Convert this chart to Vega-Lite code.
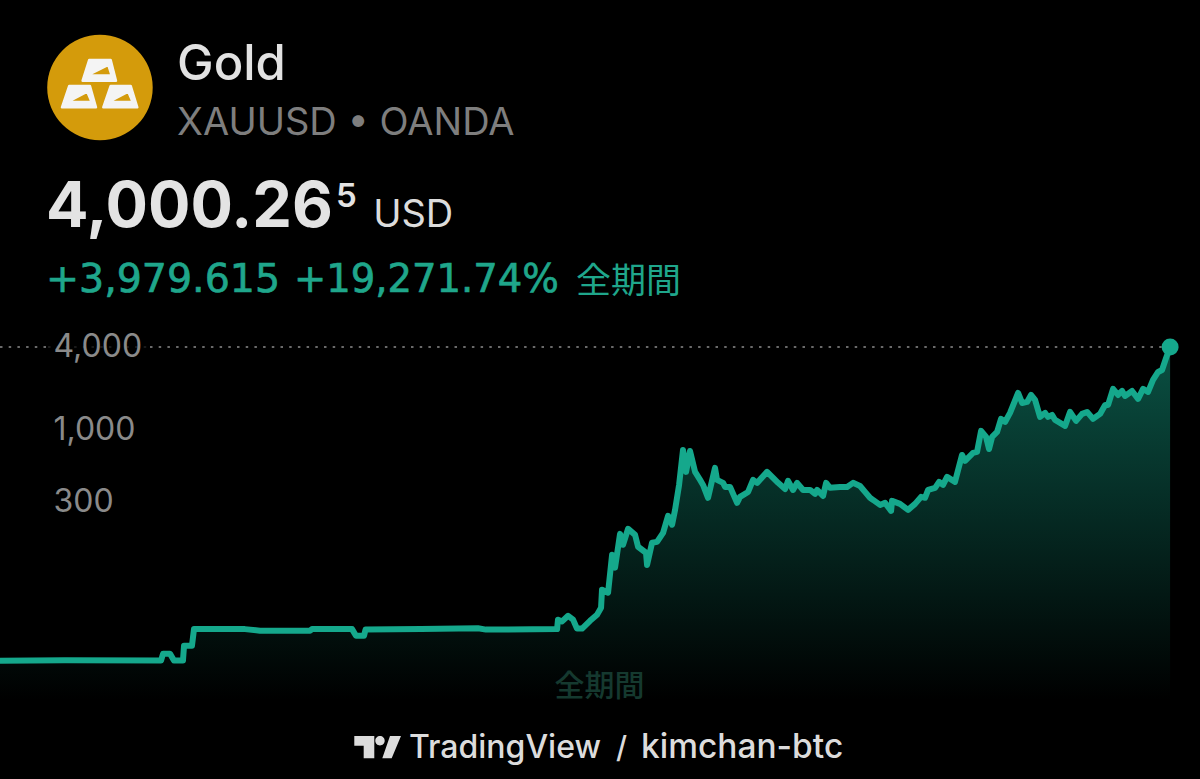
{"$schema":"https://vega.github.io/schema/vega-lite/v6.json","width":1200,"height":779,"autosize":{"type":"fit","contains":"padding"},"padding":0,"background":"#000000","config":{"view":{"stroke":null},"text":{"font":"Inter"}},"datasets":{"gold":[{"year":1915.3,"price":20.9},{"year":1921.43,"price":21.1},{"year":1930.49,"price":20.95},{"year":1930.68,"price":23.5},{"year":1931.34,"price":23.5},{"year":1931.71,"price":20.95},{"year":1932.56,"price":20.95},{"year":1932.66,"price":26.9},{"year":1933.41,"price":26.9},{"year":1933.6,"price":35.5},{"year":1938.41,"price":35.5},{"year":1939.83,"price":34.6},{"year":1944.55,"price":34.6},{"year":1944.73,"price":35.5},{"year":1948.51,"price":35.5},{"year":1948.88,"price":31.8},{"year":1949.64,"price":31.8},{"year":1949.78,"price":35.2},{"year":1955.02,"price":35.5},{"year":1960.39,"price":36},{"year":1961.15,"price":35.2},{"year":1967.85,"price":35.5},{"year":1967.94,"price":41.6},{"year":1968.32,"price":40.4},{"year":1968.89,"price":44.4},{"year":1969.36,"price":41.6},{"year":1969.73,"price":35.8},{"year":1970.21,"price":35.8},{"year":1970.96,"price":40.8},{"year":1971.62,"price":45.2},{"year":1972.0,"price":50.8},{"year":1972.09,"price":68.7},{"year":1972.66,"price":65.3},{"year":1973.04,"price":123.3},{"year":1973.32,"price":99.3},{"year":1973.79,"price":175},{"year":1974.07,"price":145.7},{"year":1974.55,"price":190.5},{"year":1975.21,"price":172},{"year":1975.49,"price":141},{"year":1976.24,"price":127.5},{"year":1976.34,"price":104},{"year":1976.81,"price":150.7},{"year":1977.28,"price":153},{"year":1977.85,"price":178},{"year":1978.32,"price":236.6},{"year":1978.7,"price":203.8},{"year":1978.98,"price":261.5},{"year":1979.36,"price":397},{"year":1979.73,"price":713},{"year":1980.02,"price":494},{"year":1980.39,"price":701},{"year":1980.87,"price":494},{"year":1981.34,"price":432},{"year":1981.62,"price":397},{"year":1982.09,"price":320},{"year":1982.75,"price":528},{"year":1982.94,"price":432},{"year":1983.51,"price":411},{"year":1983.7,"price":384},{"year":1984.17,"price":384},{"year":1984.83,"price":294},{"year":1985.11,"price":325},{"year":1985.87,"price":353},{"year":1986.34,"price":432},{"year":1986.72,"price":411},{"year":1987.66,"price":494},{"year":1988.23,"price":446},{"year":1988.7,"price":411},{"year":1989.36,"price":371},{"year":1989.64,"price":425},{"year":1990.11,"price":365},{"year":1990.49,"price":411},{"year":1991.06,"price":365},{"year":1991.72,"price":365},{"year":1992.19,"price":342},{"year":1992.38,"price":365},{"year":1992.94,"price":330},{"year":1993.23,"price":411},{"year":1993.6,"price":378},{"year":1994.55,"price":384},{"year":1995.21,"price":384},{"year":1995.77,"price":411},{"year":1996.43,"price":390},{"year":1996.9,"price":353},{"year":1997.37,"price":320},{"year":1997.66,"price":309},{"year":1998.32,"price":284},{"year":1998.79,"price":294},{"year":1999.36,"price":257},{"year":1999.45,"price":304},{"year":2000.2,"price":289},{"year":2000.96,"price":261.5},{"year":2001.62,"price":289},{"year":2002.19,"price":325},{"year":2002.56,"price":320},{"year":2002.85,"price":365},{"year":2003.51,"price":378},{"year":2003.89,"price":418},{"year":2004.26,"price":397},{"year":2004.64,"price":454},{"year":2005.39,"price":418},{"year":2006.05,"price":656},{"year":2006.34,"price":594},{"year":2007.09,"price":678},{"year":2007.47,"price":690},{"year":2007.85,"price":981},{"year":2008.32,"price":887},{"year":2008.6,"price":725},{"year":2008.89,"price":887},{"year":2009.36,"price":965},{"year":2009.73,"price":1199},{"year":2010.11,"price":1140},{"year":2010.58,"price":1326},{"year":2011.34,"price":1852},{"year":2011.72,"price":1567},{"year":2012.19,"price":1594},{"year":2012.56,"price":1791},{"year":2012.94,"price":1648},{"year":2013.41,"price":1240},{"year":2013.89,"price":1326},{"year":2014.17,"price":1240},{"year":2014.55,"price":1282},{"year":2014.83,"price":1179},{"year":2015.3,"price":1122},{"year":2015.77,"price":1067},{"year":2016.24,"price":1348},{"year":2016.81,"price":1160},{"year":2017.38,"price":1304},{"year":2017.85,"price":1348},{"year":2018.41,"price":1199},{"year":2019.07,"price":1304},{"year":2019.55,"price":1516},{"year":2019.83,"price":1516},{"year":2020.3,"price":1981},{"year":2020.77,"price":1791},{"year":2021.15,"price":1915},{"year":2021.43,"price":1762},{"year":2022.09,"price":1915},{"year":2022.66,"price":1676},{"year":2023.13,"price":1981},{"year":2023.6,"price":1884},{"year":2024.07,"price":2303},{"year":2024.55,"price":2632},{"year":2024.92,"price":2722},{"year":2025.3,"price":3328},{"year":2025.68,"price":4000}]},"layer":[{"data":{"name":"gold"},"mark":{"type":"area","line":false,"color":{"gradient":"linear","x1":0,"y1":0,"x2":0,"y2":1,"stops":[{"offset":0,"color":"rgba(21,168,140,0.48)"},{"offset":1,"color":"rgba(21,168,140,0)"}]}},"encoding":{"x":{"field":"year","type":"quantitative","scale":{"domain":[1915.3,2028.5],"nice":false,"zero":false},"axis":null},"y":{"field":"price","type":"quantitative","scale":{"type":"log","domain":[2.885,1335000],"nice":false},"axis":{"values":[300,1000,4000],"format":",","orient":"left","domain":false,"ticks":false,"grid":false,"title":null,"labelAlign":"left","labelBaseline":"middle","labelPadding":-53,"labelFontSize":32,"labelFont":"Inter","labelColor":"#8a8a8a"}},"y2":{"datum":10.84}}},{"data":{"values":[{"series":"last"}]},"mark":{"type":"rule","clip":true,"color":"#8d8d8d","strokeWidth":1.5,"strokeDash":[2.5,6.2]},"encoding":{"x":{"datum":1915.3,"type":"quantitative"},"x2":{"datum":1919.83},"y":{"datum":4000,"type":"quantitative"}}},{"data":{"values":[{"series":"last"}]},"mark":{"type":"rule","color":"#8d8d8d","strokeWidth":1.5,"opacity":0.25,"strokeDash":[2.5,6.2]},"encoding":{"x":{"datum":1919.83,"type":"quantitative"},"x2":{"datum":1929.45},"y":{"datum":4000,"type":"quantitative"}}},{"data":{"values":[{"series":"last"}]},"mark":{"type":"rule","color":"#8d8d8d","strokeWidth":1.5,"strokeDash":[2.5,6.2]},"encoding":{"x":{"datum":1929.45,"type":"quantitative"},"x2":{"datum":2025.68},"y":{"datum":4000,"type":"quantitative"}}},{"data":{"name":"gold"},"mark":{"type":"line","clip":true,"color":"#15a88c","strokeWidth":6,"strokeJoin":"round","strokeCap":"butt"},"encoding":{"x":{"field":"year","type":"quantitative"},"y":{"field":"price","type":"quantitative"}}},{"data":{"values":[{"series":"last"}]},"mark":{"type":"point","filled":true,"opacity":1,"color":"#15a88c","shape":"circle","size":289},"encoding":{"x":{"datum":2025.68,"type":"quantitative"},"y":{"datum":4000,"type":"quantitative"}}},{"data":{"values":[{"series":"logo"}]},"mark":{"type":"point","filled":true,"opacity":1,"color":"#d49b0b","shape":"circle","size":11130},"encoding":{"x":{"datum":1924.73,"type":"quantitative"},"y":{"datum":308400,"type":"quantitative"}}},{"data":{"values":[{"series":"bars"}]},"mark":{"type":"point","filled":true,"opacity":1,"color":"#f4f4f4","stroke":"#f4f4f4","strokeWidth":2.5,"strokeJoin":"round","size":6400,"shape":"M-0.268 -0.688L0.268 -0.688L0.4 -0.17L-0.433 -0.17ZM-0.318 -0.3L0.293 -0.3L0.208 -0.563ZM-0.768 -0.038L-0.25 -0.038L-0.1 0.495L-0.95 0.495ZM-0.818 0.363L-0.208 0.363L-0.318 0.105ZM0.268 -0.038L0.768 -0.038L0.933 0.495L0.083 0.495ZM0.208 0.363L0.818 0.363L0.708 0.105Z"},"encoding":{"x":{"datum":1924.73,"type":"quantitative"},"y":{"datum":308400,"type":"quantitative"}}},{"data":{"values":[{"series":"tv"}]},"mark":{"type":"point","filled":true,"opacity":1,"color":"#dcdcdc","strokeWidth":0,"size":2500,"shape":"M-0.928 -0.44L-0.128 -0.44L-0.128 0.452L-0.552 0.452L-0.552 -0.052L-0.928 -0.052ZM-0.088 -0.252A0.188 0.188 0 1 1 0.288 -0.252A0.188 0.188 0 1 1 -0.088 -0.252ZM0.5 -0.44L0.94 -0.44L0.568 0.452L0.192 0.452Z"},"encoding":{"x":{"datum":1950.91,"type":"quantitative"},"y":{"datum":4.93,"type":"quantitative"}}},{"data":{"values":[{"label":"Gold"}]},"mark":{"type":"text","align":"left","baseline":"alphabetic","fontSize":49,"fontWeight":500,"color":"#e2e2e2"},"encoding":{"text":{"field":"label"},"x":{"datum":1932.0,"type":"quantitative"},"y":{"datum":350000,"type":"quantitative"}}},{"data":{"values":[{"label":"XAUUSD • OANDA"}]},"mark":{"type":"text","align":"left","baseline":"alphabetic","fontSize":38,"color":"#7e7e7e"},"encoding":{"text":{"field":"label"},"x":{"datum":1932.0,"type":"quantitative"},"y":{"datum":139200,"type":"quantitative"}}},{"data":{"values":[{"label":"4,000.26"}]},"mark":{"type":"text","align":"left","baseline":"alphabetic","fontSize":63,"fontWeight":700,"color":"#e3e3e3"},"encoding":{"text":{"field":"label"},"x":{"datum":1919.63,"type":"quantitative"},"y":{"datum":29840,"type":"quantitative"}}},{"data":{"values":[{"label":"5"}]},"mark":{"type":"text","align":"left","baseline":"alphabetic","fontSize":33,"fontWeight":600,"color":"#e3e3e3"},"encoding":{"text":{"field":"label"},"x":{"datum":1947.0,"type":"quantitative"},"y":{"datum":42000,"type":"quantitative"}}},{"data":{"values":[{"label":"USD"}]},"mark":{"type":"text","align":"left","baseline":"alphabetic","fontSize":38,"color":"#dcdcdc"},"encoding":{"text":{"field":"label"},"x":{"datum":1950.5,"type":"quantitative"},"y":{"datum":29840,"type":"quantitative"}}},{"data":{"values":[{"label":"+3,979.615"}]},"mark":{"type":"text","align":"left","baseline":"alphabetic","font":"DejaVu Sans","fontSize":39.5,"stroke":"#1fa68b","strokeWidth":0.7,"color":"#1fa68b"},"encoding":{"text":{"field":"label"},"x":{"datum":1919.63,"type":"quantitative"},"y":{"datum":10048,"type":"quantitative"}}},{"data":{"values":[{"label":"+19,271.74%"}]},"mark":{"type":"text","align":"left","baseline":"alphabetic","font":"DejaVu Sans","fontSize":38.5,"stroke":"#1fa68b","strokeWidth":0.7,"color":"#1fa68b"},"encoding":{"text":{"field":"label"},"x":{"datum":1943.03,"type":"quantitative"},"y":{"datum":10048,"type":"quantitative"}}},{"data":{"values":[{"label":"全期間"}]},"mark":{"type":"text","align":"left","baseline":"alphabetic","font":"Noto Sans CJK JP","fontSize":35,"color":"#1fa68b"},"encoding":{"text":{"field":"label"},"x":{"datum":1969.63,"type":"quantitative"},"y":{"datum":9880,"type":"quantitative"}}},{"data":{"values":[{"label":"全期間"}]},"mark":{"type":"text","align":"center","baseline":"alphabetic","font":"Noto Sans CJK JP","fontSize":30,"fontWeight":500,"color":"#15392f"},"encoding":{"text":{"field":"label"},"x":{"datum":1971.86,"type":"quantitative"},"y":{"datum":11.6,"type":"quantitative"}}},{"data":{"values":[{"label":"TradingView"}]},"mark":{"type":"text","align":"left","baseline":"alphabetic","fontSize":32,"fontWeight":500,"color":"#dcdcdc"},"encoding":{"text":{"field":"label"},"x":{"datum":1953.88,"type":"quantitative"},"y":{"datum":4.1,"type":"quantitative"}}},{"data":{"values":[{"label":"/"}]},"mark":{"type":"text","align":"left","baseline":"alphabetic","fontSize":30,"fontWeight":500,"color":"#dcdcdc"},"encoding":{"text":{"field":"label"},"x":{"datum":1973.4,"type":"quantitative"},"y":{"datum":4.1,"type":"quantitative"}}},{"data":{"values":[{"label":"kimchan-btc"}]},"mark":{"type":"text","align":"left","baseline":"alphabetic","fontSize":33.5,"fontWeight":500,"color":"#dcdcdc"},"encoding":{"text":{"field":"label"},"x":{"datum":1975.77,"type":"quantitative"},"y":{"datum":4.1,"type":"quantitative"}}}]}
